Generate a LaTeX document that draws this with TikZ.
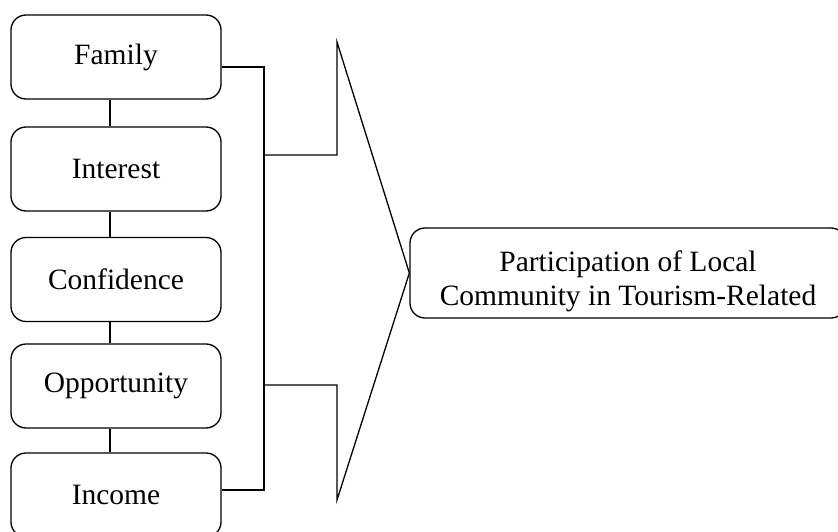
\documentclass[tikz,border=0pt]{standalone}
\usepackage{fontspec}
\setmainfont{Liberation Serif}

\tikzset{
  factor/.style={draw, rounded corners=15pt, minimum width=210pt, minimum height=84pt,
    inner sep=0pt, font=\fontsize{29.5}{34}\selectfont},
  outcome/.style={draw, rounded corners=15pt, minimum width=436pt, minimum height=90pt,
    inner sep=0pt},
  outcometext/.style={yshift=-8pt, align=center, font=\fontsize{29.5}{34}\selectfont}
}

\begin{document}
\begin{tikzpicture}[x=1pt, y=-1pt, line width=1.3pt]
\useasboundingbox (0,0) rectangle (838,532);
\clip (0,0) rectangle (838,532);

%Nodes
\node[factor] (family) at (116,57) {Family};

\node[factor] (interest) at (116,169) {Interest};

\node[factor] (confidence) at (116,279.5) {Confidence};

\node[factor] (opportunity) at (116,386) {Opportunity};

\node[factor] (income) at (116,495) {Income};

\node[outcome, label={[outcometext]center:Participation of Local\\Community in Tourism-Related}]
  (participation) at (628,273) {};

%Points
\coordinate (brtop) at (264,67);
\coordinate (brbot) at (264,490);
\coordinate (jtop) at (264,155);
\coordinate (jbot) at (264,385);
\coordinate (apextop) at (337,42);
\coordinate (apexbot) at (337,500);

%Lines
\draw ([xshift=-6pt]family.south) -- ([xshift=-6pt]interest.north);
\draw ([xshift=-6pt]interest.south) -- ([xshift=-6pt]confidence.north);
\draw ([xshift=-6pt]confidence.south) -- ([xshift=-6pt]opportunity.north);
\draw ([xshift=-6pt]opportunity.south) -- ([xshift=-6pt]income.north);

\draw (family.east |- brtop) -- (brtop) -- (brbot) -- (income.east |- brbot);

\draw (jtop) -| (apextop) -- (participation.west);
\draw (jbot) -| (apexbot) -- (participation.west);
\end{tikzpicture}
\end{document}
